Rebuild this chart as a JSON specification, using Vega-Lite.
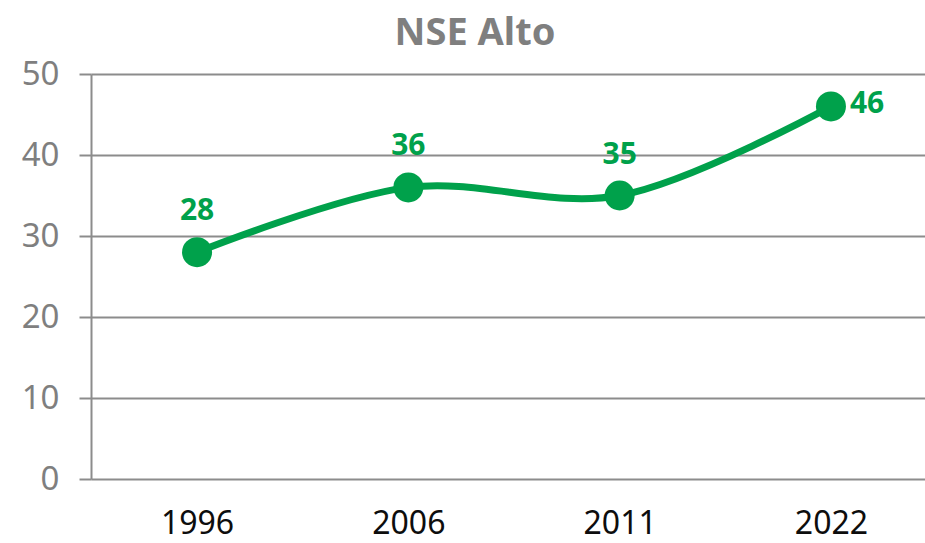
{
  "$schema": "https://vega.github.io/schema/vega-lite/v6.json",
  "width": 834,
  "height": 405,
  "autosize": "none",
  "padding": {"left": 91, "top": 74, "right": 0, "bottom": 64},
  "background": "white",
  "config": {"view": {"stroke": null}, "font": "Noto Sans"},
  "title": {"text": "NSE Alto", "fontSize": 38, "fontWeight": "bold", "color": "#7f7f7f", "font": "Noto Sans", "dx": -33, "offset": 5},
  "data": {"values": [
    {"year": "1996", "value": 28},
    {"year": "2006", "value": 36},
    {"year": "2011", "value": 35},
    {"year": "2022", "value": 46}
  ]},
  "encoding": {
    "x": {"field": "year", "type": "ordinal", "scale": {"type": "point", "padding": 0.4735, "align": 0.53},
      "axis": {"title": null, "labelAngle": 0, "domain": false, "ticks": false, "grid": false, "labelFontSize": 32, "labelColor": "#0d0d0d", "labelPadding": 29, "labelFont": "Noto Sans"}},
    "y": {"field": "value", "type": "quantitative", "scale": {"domain": [0, 50], "nice": false},
      "axis": {"title": null, "values": [0, 10, 20, 30, 40, 50], "labelFontSize": 33, "labelColor": "#7f7f7f", "labelPadding": 20, "tickSize": 12, "tickColor": "#8c8c8c", "tickWidth": 2, "domainColor": "#8c8c8c", "domainWidth": 2, "gridColor": "#8c8c8c", "gridWidth": 2, "labelFont": "Noto Sans"}}
  },
  "layer": [
    {"mark": {"type": "line", "interpolate": "catmull-rom", "color": "#00a14b", "strokeWidth": 7}},
    {"mark": {"type": "point", "filled": true, "opacity": 1, "color": "#00a14b", "size": 900}},
    {"transform": [{"filter": "datum.year != '2022'"}],
     "mark": {"type": "text", "color": "#00a14b", "fontSize": 30, "fontWeight": "bold", "dy": -32, "baseline": "alphabetic", "font": "Noto Sans"},
     "encoding": {"text": {"field": "value", "type": "quantitative"}}},
    {"transform": [{"filter": "datum.year == '2022'"}],
     "mark": {"type": "text", "color": "#00a14b", "fontSize": 30, "fontWeight": "bold", "dx": 19, "dy": -2, "align": "left", "baseline": "middle", "font": "Noto Sans"},
     "encoding": {"text": {"field": "value", "type": "quantitative"}}}
  ]
}
